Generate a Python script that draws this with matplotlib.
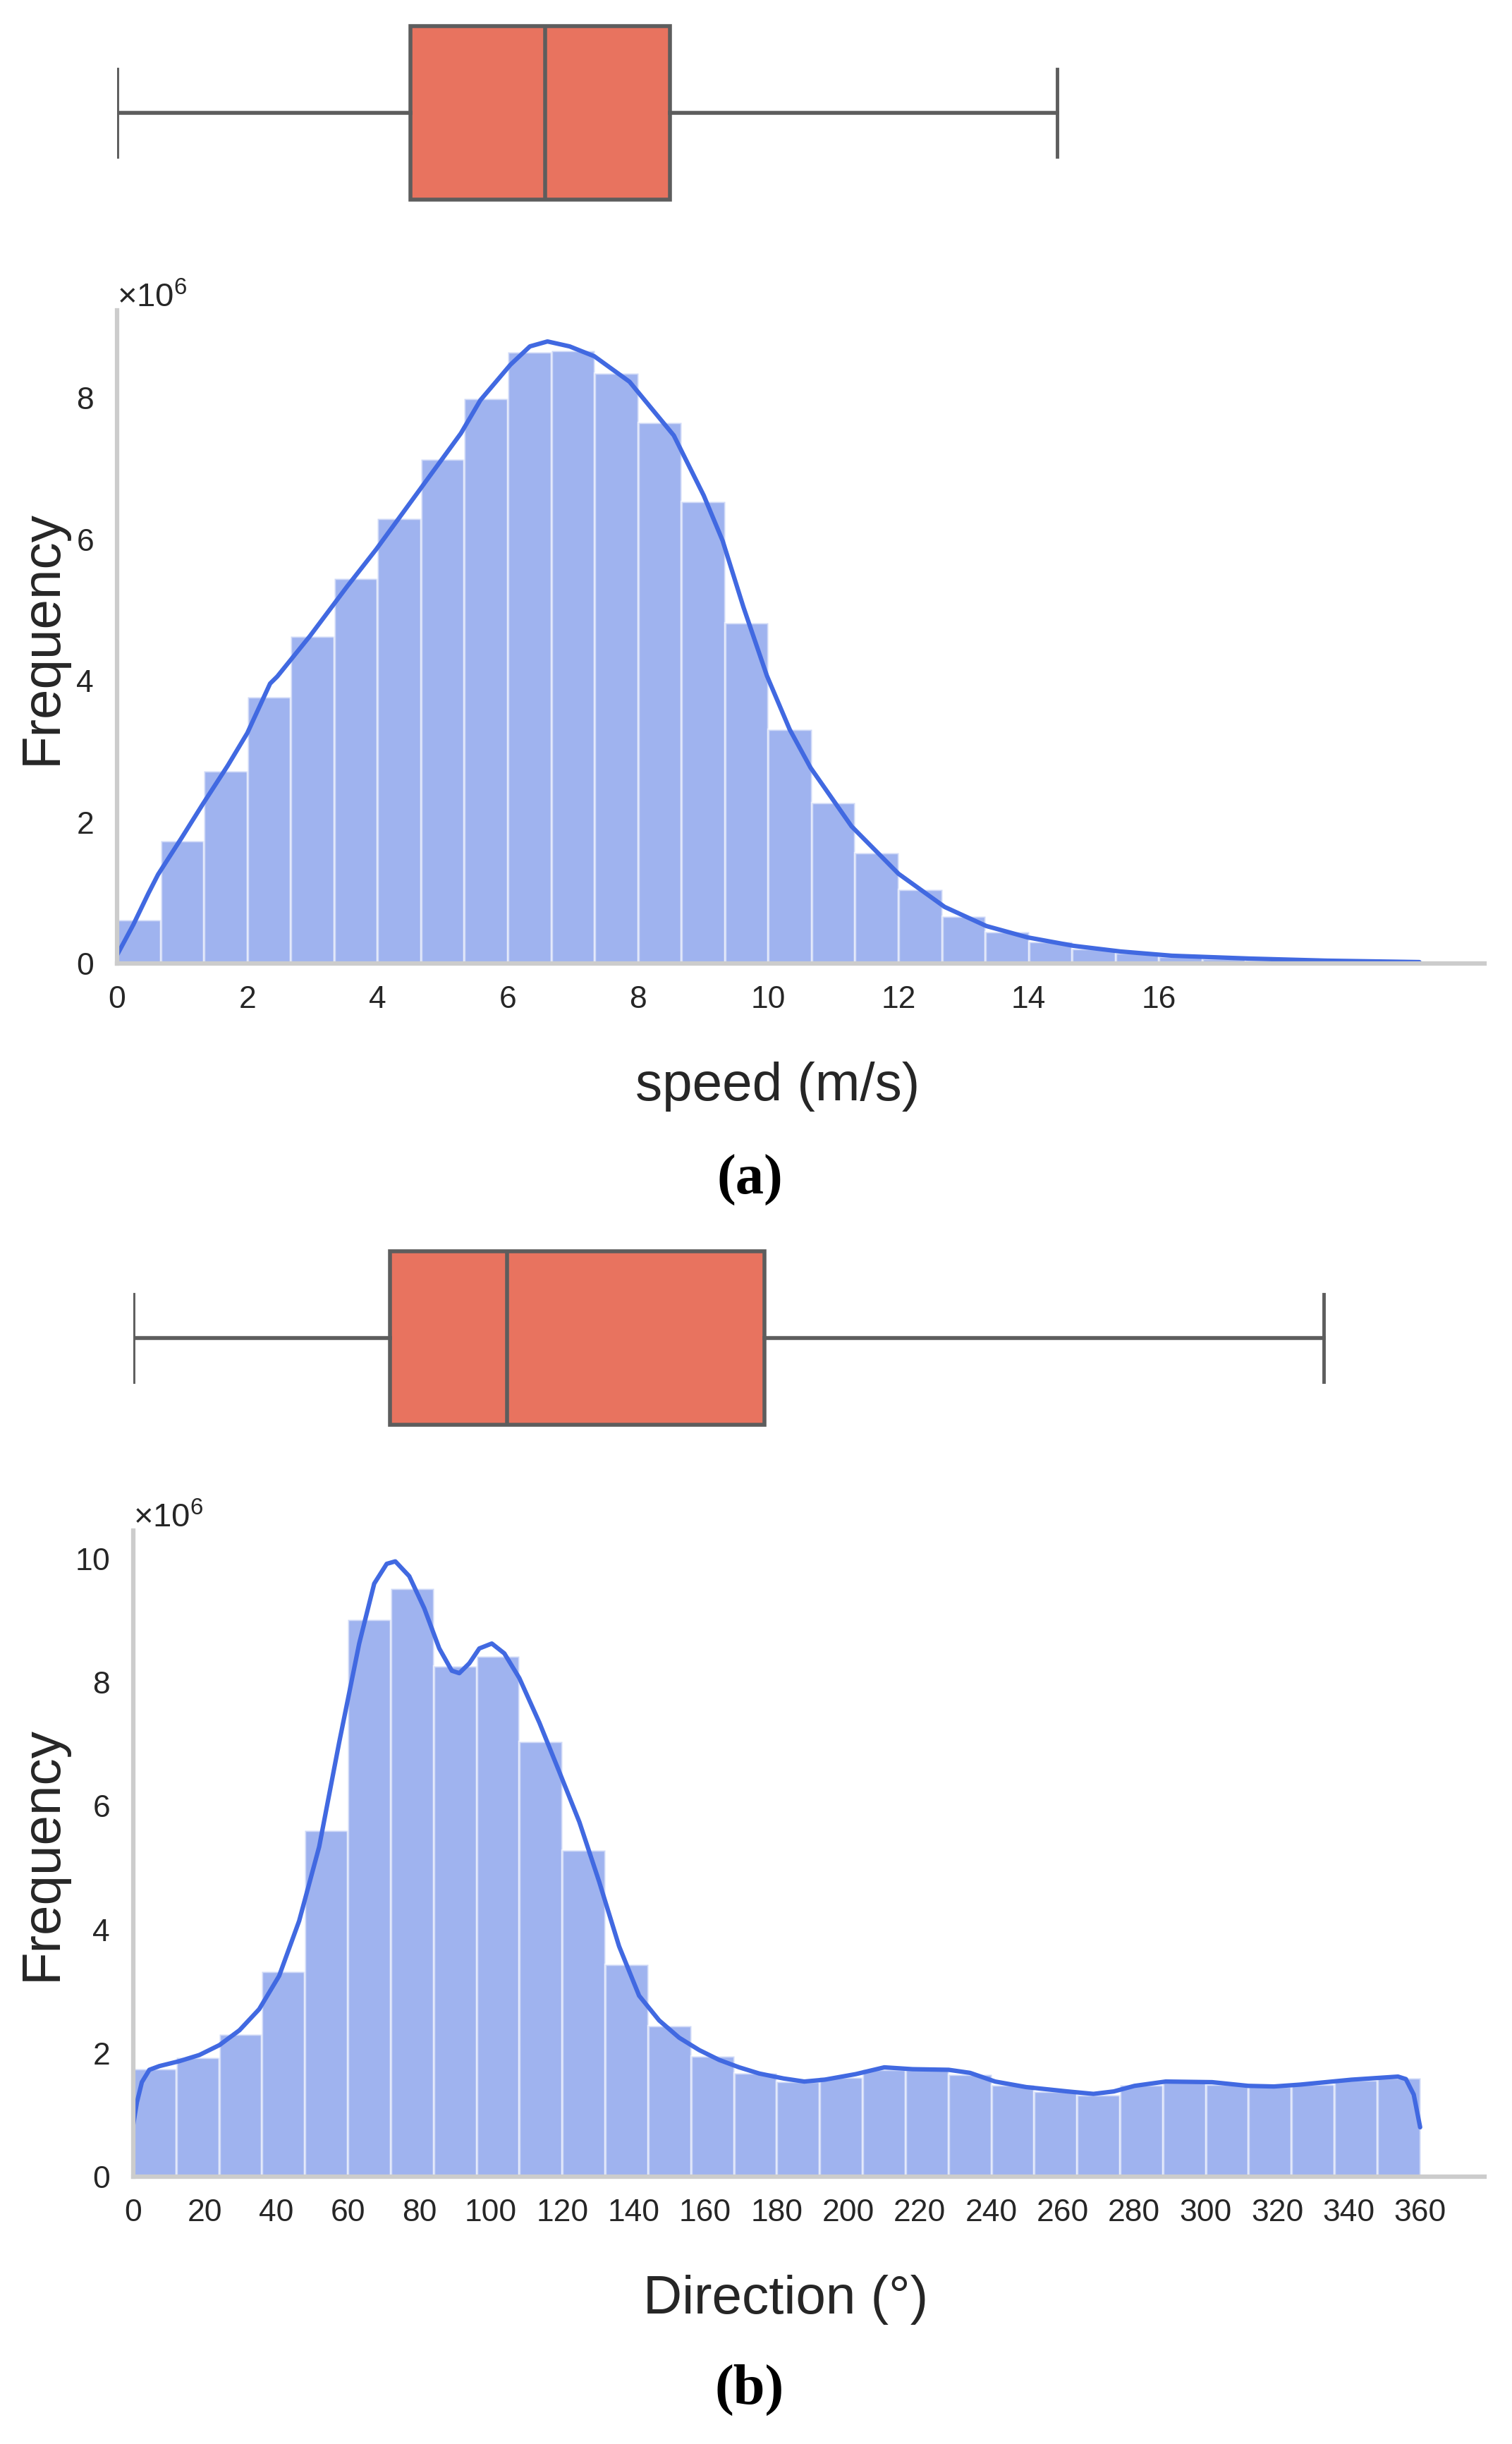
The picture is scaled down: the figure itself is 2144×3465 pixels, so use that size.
import numpy as np
import matplotlib
matplotlib.use("Agg")
import matplotlib.pyplot as plt

plt.rcParams['font.family'] = ['Liberation Sans', 'DejaVu Sans']
plt.rcParams['mathtext.fontset'] = 'custom'
plt.rcParams['mathtext.rm'] = 'Liberation Sans'
plt.rcParams['mathtext.it'] = 'Liberation Sans:italic'
plt.rcParams['mathtext.bf'] = 'Liberation Sans:bold'

# ---------------- data (counts in millions) ----------------
speed_edges_range = (0.0, 20.0)
speed_nbins = 30
speed_counts = [0.62, 1.74, 2.72, 3.77, 4.63, 5.45, 6.30, 7.13, 7.99, 8.65,
                8.67, 8.35, 7.65, 6.54, 4.82, 3.31, 2.28, 1.57, 1.05, 0.67,
                0.45, 0.31, 0.21, 0.15, 0.10, 0.07, 0.05, 0.03, 0.02, 0.01]
speed_kde_x = [0, 0.25, 0.48, 0.63, 1.0, 1.32, 1.7, 2.0, 2.35, 2.46, 2.96, 3.53,
               3.98, 4.67, 5.28, 5.58, 6.04, 6.34, 6.61, 6.95, 7.33, 7.87, 8.55,
               9.01, 9.30, 9.62, 9.98, 10.33, 10.65, 11.28, 12.0, 12.71, 13.35,
               13.98, 14.69, 15.41, 16.2, 17.39, 18.58, 20.0]
speed_kde_y = [0.12, 0.55, 0.99, 1.26, 1.79, 2.26, 2.80, 3.26, 3.96, 4.06, 4.63, 5.33,
               5.86, 6.73, 7.50, 7.97, 8.47, 8.73, 8.80, 8.73, 8.59, 8.23, 7.47,
               6.62, 5.98, 5.04, 4.07, 3.31, 2.77, 1.94, 1.27, 0.80, 0.53,
               0.37, 0.25, 0.17, 0.11, 0.07, 0.04, 0.02]
speed_box = dict(whislo=0.0, q1=4.51, med=6.57, q3=8.49, whishi=14.44)
speed_xticks = [0, 2, 4, 6, 8, 10, 12, 14, 16]

dir_edges_range = (0.0, 360.0)
dir_nbins = 30
dir_counts = [1.75, 1.93, 2.31, 3.32, 5.61, 9.02, 9.52, 8.27, 8.43, 7.04,
              5.29, 3.44, 2.44, 1.95, 1.68, 1.54, 1.61, 1.73, 1.74, 1.65,
              1.48, 1.38, 1.32, 1.48, 1.55, 1.50, 1.46, 1.50, 1.56, 1.60]
dir_kde_x = [0, 1, 2.4, 4.5, 7.3, 12.9, 18.5, 24.1, 29.7, 35.2, 40.8, 46.4, 52.0,
             57.6, 63.2, 67.4, 70.9, 73.3, 77.2, 81.4, 85.6, 89.1, 91.2, 94.0,
             96.8, 100.3, 103.8, 108.0, 113.6, 119.2, 124.8, 130.3, 135.9, 141.5,
             147.1, 152.7, 158.3, 163.9, 169.5, 175.1, 181.9, 187.7, 193.4, 202.1,
             210.1, 218.0, 228.1, 234.1, 241.1, 249.8, 261.3, 268.6, 274.3, 280.1,
             288.8, 301.8, 311.9, 319.1, 326.4, 340.8, 353.8, 356.0, 358.2, 360.0]
dir_kde_y = [0.85, 1.2, 1.53, 1.73, 1.79, 1.87, 1.97, 2.13, 2.37, 2.71, 3.25, 4.14, 5.34,
             7.03, 8.63, 9.60, 9.92, 9.96, 9.72, 9.20, 8.55, 8.19, 8.15, 8.31,
             8.55, 8.63, 8.47, 8.07, 7.35, 6.55, 5.74, 4.78, 3.73, 2.93,
             2.53, 2.25, 2.05, 1.89, 1.77, 1.67, 1.59, 1.54, 1.57, 1.66,
             1.77, 1.74, 1.73, 1.68, 1.54, 1.45, 1.38, 1.34, 1.38, 1.47,
             1.54, 1.53, 1.47, 1.46, 1.49, 1.57, 1.62, 1.58, 1.33, 0.80]
dir_box = dict(whislo=0.0, q1=71.8, med=104.6, q3=176.6, whishi=333.0)
dir_xticks = list(range(0, 361, 20))

SCALE = 1e6
BAR_COLOR = 'royalblue'
BOX_COLOR = '#E8735F'
LINE_GRAY = '#5d5d5d'
SPINE_GRAY = '#cccccc'
TICK_FS = 32
LABEL_FS = 55

W, H = 2144, 3465
fig = plt.figure(figsize=(W / 100, H / 100), dpi=100)


def ax_rect(x0, y0, x1, y1):
    return [x0 / W, 1 - y1 / H, (x1 - x0) / W, (y1 - y0) / H]


def draw_box(ax, stats, xlim):
    st = dict(stats)
    st['fliers'] = []
    kw = dict(positions=[0], widths=0.8, capwidths=0.4, patch_artist=True,
              showfliers=False,
              boxprops=dict(facecolor=BOX_COLOR, edgecolor=LINE_GRAY, linewidth=4),
              medianprops=dict(color=LINE_GRAY, linewidth=4),
              whiskerprops=dict(color=LINE_GRAY, linewidth=4),
              capprops=dict(color=LINE_GRAY, linewidth=3.5))
    try:
        ax.bxp([st], orientation='horizontal', **kw)
    except TypeError:
        ax.bxp([st], vert=False, **kw)
    ax.set_xlim(*xlim)
    ax.set_ylim(-0.5, 0.5)
    ax.axis('off')


def draw_hist(ax, rng, nbins, counts, kx, ky, xlim, xticks, xlabel, xl_coords, yl_x):
    edges = np.linspace(rng[0], rng[1], nbins + 1)
    c = np.array(counts) * SCALE
    ax.bar(edges[:-1], c, width=np.diff(edges), align='edge', color=BAR_COLOR,
           alpha=0.5, edgecolor='white', linewidth=2.5)
    ax.plot(np.array(kx), np.array(ky) * SCALE, color=BAR_COLOR, linewidth=4.5,
            solid_joinstyle='round', solid_capstyle='round')
    ax.set_xlim(*xlim)
    ax.set_ylim(bottom=0)
    ax.set_xticks(xticks)
    ax.ticklabel_format(axis='y', style='sci', scilimits=(6, 6), useMathText=True)
    ax.tick_params(axis='both', length=0, labelsize=TICK_FS, colors='#262626')
    ax.tick_params(axis='x', pad=22)
    ax.tick_params(axis='y', pad=24)
    ax.yaxis.get_offset_text().set_fontsize(TICK_FS + 2)
    ax.yaxis.get_offset_text().set_color('#262626')
    for s in ['top', 'right']:
        ax.spines[s].set_visible(False)
    for s in ['left', 'bottom']:
        ax.spines[s].set_color(SPINE_GRAY)
        ax.spines[s].set_linewidth(4.5)
    ax.set_xlabel(xlabel, fontsize=LABEL_FS, color='#262626')
    ax.xaxis.set_label_coords(*xl_coords)
    ax.xaxis.label.set_va('center')
    ax.set_ylabel('Frequency', fontsize=LABEL_FS, color='#262626')
    ax.yaxis.set_label_coords(yl_x, 0.5)
    ax.yaxis.label.set_va('center')
    ax.set_facecolor('white')


# ---- panel (a)
xlim_a = (0, speed_edges_range[1] * 1.05)
ax_box_a = fig.add_axes(ax_rect(166, 6, 2105, 314))
draw_box(ax_box_a, speed_box, xlim_a)
ax_a = fig.add_axes(ax_rect(166, 440, 2105, 1366))
draw_hist(ax_a, speed_edges_range, speed_nbins, speed_counts, speed_kde_x, speed_kde_y,
          xlim_a, speed_xticks, 'speed (m/s)', (0.483, -0.188), -0.0547)

# ---- panel (b)
xlim_b = (0, dir_edges_range[1] * 1.05)
ax_box_b = fig.add_axes(ax_rect(189, 1743, 2105, 2051))
draw_box(ax_box_b, dir_box, xlim_b)
ax_b = fig.add_axes(ax_rect(189, 2170, 2105, 3086))
draw_hist(ax_b, dir_edges_range, dir_nbins, dir_counts, dir_kde_x, dir_kde_y,
          xlim_b, dir_xticks, 'Direction (°)', (0.483, -0.190), -0.0673)

fig.text(1063 / W, 1 - 1673 / H, '(a)', ha='center', va='center', fontsize=58,
         family=['Liberation Serif', 'DejaVu Serif'], fontweight='bold')
fig.text(1063 / W, 1 - 3388 / H, '(b)', ha='center', va='center', fontsize=58,
         family=['Liberation Serif', 'DejaVu Serif'], fontweight='bold')

fig.savefig('out.png', dpi=100, facecolor='white')
